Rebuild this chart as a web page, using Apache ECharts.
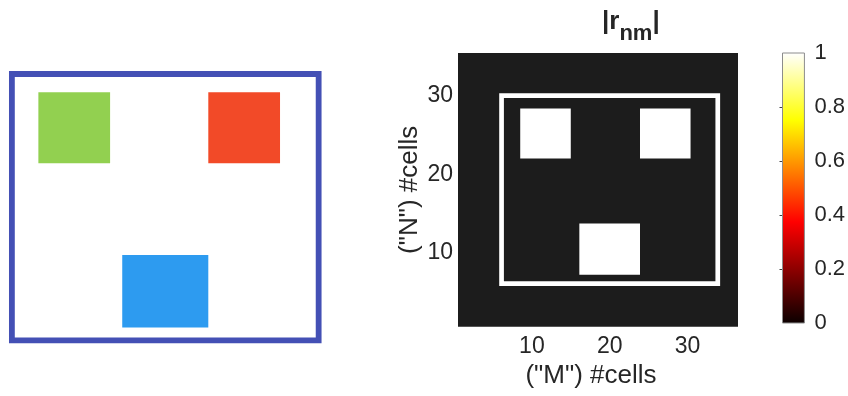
<!DOCTYPE html>
<html><head><meta charset="utf-8">
<script src="https://cdn.jsdelivr.net/npm/echarts@6/dist/echarts.min.js"></script>
<style>html,body{margin:0;padding:0;background:#fff}#c{width:848px;height:396px}</style>
</head><body><div id="c"></div>
<script>
// ---- data (in cell units of the M x N grid) ----
const squareNames = ['upper-left', 'upper-right', 'lower'];
const squareX0 = [8.5, 23.9, 16.1];
const squareX1 = [15.0, 30.4, 23.9];
const squareY0 = [22.0, 22.0, 7.15];
const squareY1 = [28.4, 28.4, 13.7];
const squareValues = [1, 1, 1];
const frameX = [6.1, 33.9];
const frameY = [6.0, 30.05];
const frameValue = 1;
const imageX = [0.5, 36.5];
const imageY = [0.5, 35.5];
const backgroundValue = 0;
const xTicks = [10, 20, 30];
const yTicks = [10, 20, 30];
const colorbarRange = [0, 1];
const colorbarTicks = [0, 0.2, 0.4, 0.6, 0.8, 1];
const colorbarMinorTicks = [0.2, 0.4, 0.6, 0.8];

// ---- styles ----
const FONT = 'Liberation Sans, Arial, sans-serif';
const TXT = '#262626';
const leftColors = ['#92d050', '#f24a28', '#2d9bf0'];
const leftFrameColor = '#4450b5';
const hotStops = [
  { offset: 0, color: '#0b0000' },
  { offset: 0.375, color: '#ff0000' },
  { offset: 0.75, color: '#ffff00' },
  { offset: 1, color: '#ffffff' }
];
const valueColor = v => (v >= 1 ? '#ffffff' : '#1c1c1c');

const squareData = squareNames.map((n, i) => ({
  name: n,
  value: [squareX0[i], squareX1[i], squareY0[i], squareY1[i], squareValues[i]]
}));
const frameData = [[frameX[0], frameX[1], frameY[0], frameY[1], frameValue]];
const imageData = [[imageX[0], imageX[1], imageY[0], imageY[1], backgroundValue]];

function rectShape(api) {
  const p0 = api.coord([api.value(0), api.value(3)]);
  const p1 = api.coord([api.value(1), api.value(2)]);
  return { x: p0[0], y: p0[1], width: p1[0] - p0[0], height: p1[1] - p0[1] };
}
function fillRect(colorFn) {
  return function (params, api) {
    return { type: 'rect', shape: rectShape(api), style: { fill: colorFn(api.value(4), params.dataIndex) } };
  };
}
function strokeRect(colorFn, width) {
  return function (params, api) {
    return { type: 'rect', shape: rectShape(api),
      style: { fill: 'none', stroke: colorFn(api.value(4), params.dataIndex), lineWidth: width } };
  };
}
const enc = { x: [0, 1], y: [2, 3] };
const hidden = { show: false };

const chart = echarts.init(document.getElementById('c'), null, { renderer: 'canvas' });
chart.setOption({
  animation: false,
  backgroundColor: '#ffffff',
  title: {
    text: '{a||r}{b|nm}{a||}',
    left: 602, top: 9, padding: 0,
    textStyle: {
      rich: {
        a: { fontFamily: FONT, fontWeight: 'bold', fontSize: 26, lineHeight: 30, color: TXT, verticalAlign: 'top' },
        b: { fontFamily: FONT, fontWeight: 'bold', fontSize: 22, lineHeight: 26, color: TXT, verticalAlign: 'top', padding: [14, 0, 0, 0] }
      }
    }
  },
  grid: [
    { left: 5.27, top: 63.48, width: 320, height: 287.9 },
    { left: 458, top: 53, width: 280, height: 273.7 },
    { left: 782.5, top: 53, width: 25, height: 270 }
  ],
  xAxis: [
    { gridIndex: 0, type: 'value', min: 5.5, max: 34.5, show: false },
    { gridIndex: 1, type: 'value', min: imageX[0], max: imageX[1],
      axisLine: hidden, axisTick: hidden, splitLine: hidden,
      axisLabel: { customValues: xTicks, fontFamily: FONT, fontSize: 23, color: TXT, margin: 8 },
      name: '("M") #cells', nameLocation: 'middle', nameGap: 34,
      nameTextStyle: { fontFamily: FONT, fontSize: 26, color: TXT, padding: [0, 14, 0, 0] } },
    { gridIndex: 2, type: 'value', min: 0, max: 1, show: false }
  ],
  yAxis: [
    { gridIndex: 0, type: 'value', min: 5, max: 31, show: false },
    { gridIndex: 1, type: 'value', min: imageY[0], max: imageY[1],
      axisLine: hidden, axisTick: hidden, splitLine: hidden,
      axisLabel: { customValues: yTicks, fontFamily: FONT, fontSize: 23, color: TXT, margin: 5 },
      name: '("N") #cells', nameLocation: 'middle', nameGap: 35,
      nameTextStyle: { fontFamily: FONT, fontSize: 26, color: TXT } },
    { gridIndex: 2, type: 'value', min: colorbarRange[0], max: colorbarRange[1], position: 'right',
      axisLine: hidden, splitLine: hidden,
      axisTick: { show: true, inside: true, length: 3, customValues: colorbarMinorTicks, lineStyle: { color: '#404040', width: 1 } },
      axisLabel: { customValues: colorbarTicks, fontFamily: FONT, fontSize: 22, color: TXT, margin: 10 } }
  ],
  series: [
    { type: 'custom', xAxisIndex: 0, yAxisIndex: 0, encode: enc, data: frameData,
      renderItem: strokeRect(() => leftFrameColor, 5.8) },
    { type: 'custom', xAxisIndex: 0, yAxisIndex: 0, encode: enc, data: squareData,
      renderItem: fillRect((v, i) => leftColors[i]) },
    { type: 'custom', xAxisIndex: 1, yAxisIndex: 1, encode: enc, data: imageData,
      renderItem: fillRect(valueColor) },
    { type: 'custom', xAxisIndex: 1, yAxisIndex: 1, encode: enc, data: frameData,
      renderItem: strokeRect(valueColor, 4.7) },
    { type: 'custom', xAxisIndex: 1, yAxisIndex: 1, encode: enc, data: squareData,
      renderItem: fillRect(valueColor) },
    { type: 'custom', xAxisIndex: 2, yAxisIndex: 2, encode: enc,
      data: [[0, 1, colorbarRange[0], colorbarRange[1], 0]],
      renderItem: function (params, api) {
        return { type: 'rect', shape: rectShape(api),
          style: { fill: new echarts.graphic.LinearGradient(0, 1, 0, 0, hotStops), stroke: '#8c8c8c', lineWidth: 1 } };
      } }
  ]
});
</script></body></html>
